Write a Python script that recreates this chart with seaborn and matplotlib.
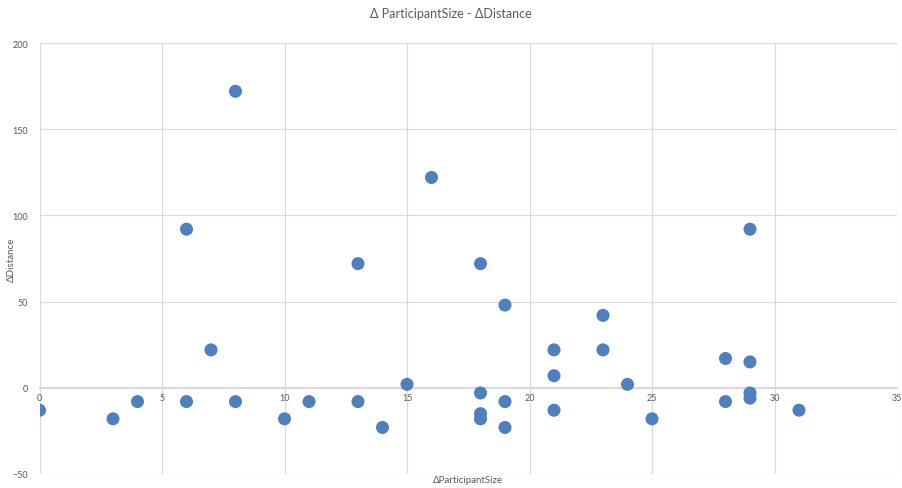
import matplotlib
matplotlib.use("Agg")
import matplotlib.pyplot as plt
import seaborn as sns
import pandas as pd

# Change in participant count vs change in distance
delta_participants = [0, 3, 4, 6, 6, 7, 8, 8, 10, 11, 13, 13, 14, 15, 16, 18, 18, 18, 18,
                      19, 19, 19, 21, 21, 21, 23, 23, 24, 25, 28, 28, 29, 29, 29, 29, 31]
delta_distance = [-13, -18, -8, -8, 92, 22, 172, -8, -18, -8, 72, -8, -23, 2, 122, 72, -3, -15, -18,
                  48, -8, -23, 22, 7, -13, 42, 22, 2, -18, 17, -8, 92, 15, -3, -6, -13]

x_ticks = [0, 5, 10, 15, 20, 25, 30, 35]
y_ticks = [-50, 0, 50, 100, 150, 200]

df = pd.DataFrame({"ΔParticipantSize": delta_participants, "ΔDistance": delta_distance})

sns.set_style("white")
plt.rcParams["font.family"] = ["Lato", "DejaVu Sans"]

W, H = 902, 489
fig = plt.figure(figsize=(W / 100, H / 100), dpi=100)
ax = fig.add_axes([39.5 / W, (H - 475) / H, (897 - 39.5) / W, (475 - 44) / H])

grid_c = "#D9D9D9"
text_c = "#595959"

ax.set_xlim(0, 35)
ax.set_ylim(-50, 200)
ax.set_xticks(x_ticks)
ax.set_yticks(y_ticks)
ax.grid(True, color=grid_c, linewidth=0.8)
ax.set_axisbelow(True)

sns.scatterplot(data=df, x="ΔParticipantSize", y="ΔDistance", ax=ax,
                color="#4F7FBC", s=88, edgecolor="none", linewidth=0, zorder=3)

# category axis crosses at zero, like a spreadsheet chart
for side in ["top", "right", "left"]:
    ax.spines[side].set_visible(False)
ax.spines["bottom"].set_position(("data", 0))
ax.spines["bottom"].set_color(grid_c)
ax.spines["bottom"].set_linewidth(1.4)

ax.tick_params(axis="both", length=0, labelsize=6.5, labelcolor=text_c)
ax.tick_params(axis="x", pad=4)
ax.tick_params(axis="y", pad=8)

ax.set_xlabel("ΔParticipantSize", fontsize=7, color=text_c)
ax.set_ylabel("ΔDistance", fontsize=7, color=text_c)
ax.xaxis.set_label_coords(0.5, -0.002, transform=ax.transAxes)
ax.xaxis.label.set_verticalalignment("top")
ax.yaxis.set_label_coords(-0.028, 0.5)

fig.text(0.5, 1 - 14 / H, "Δ ParticipantSize - ΔDistance", ha="center", va="center",
         fontsize=9, color=text_c)

fig.savefig("out.png", dpi=100, facecolor="white")
